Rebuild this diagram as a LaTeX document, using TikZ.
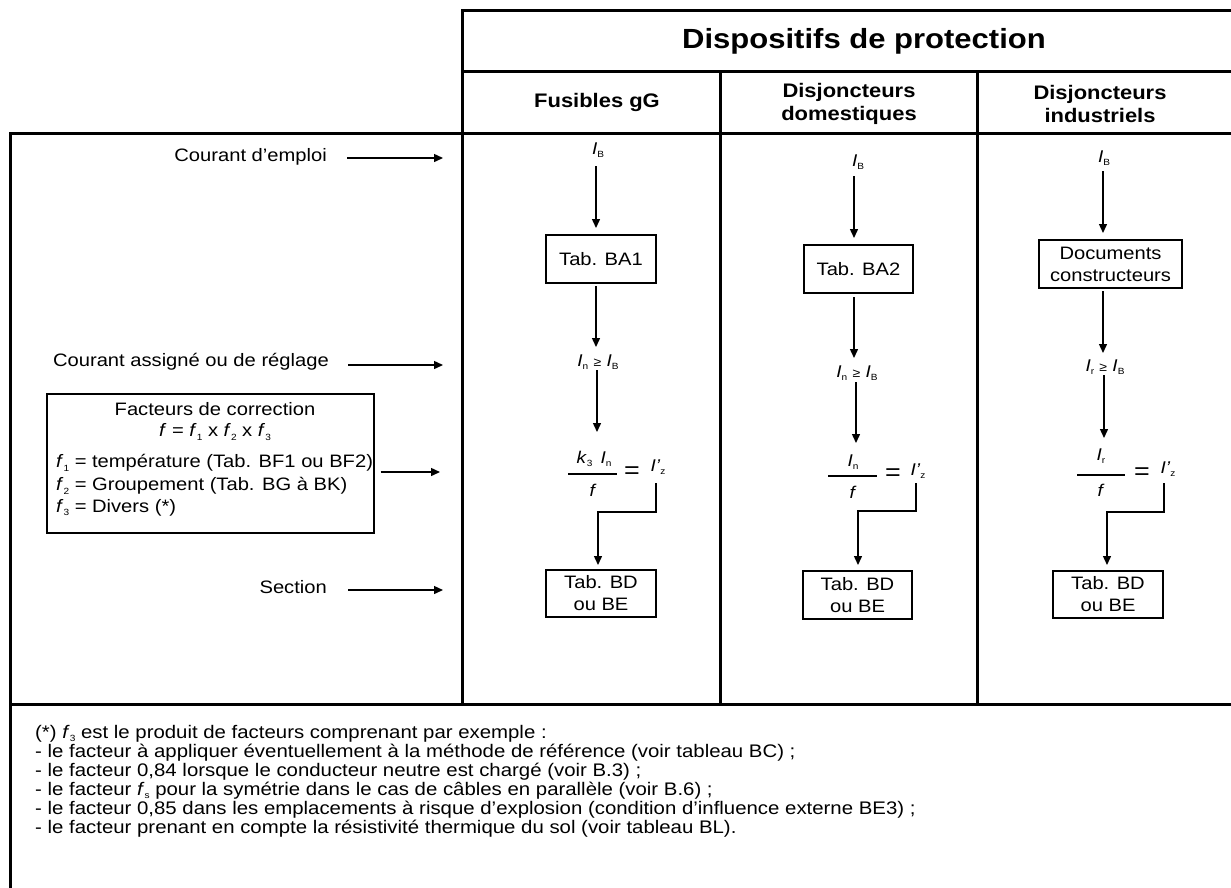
\documentclass[tikz,border=0pt]{standalone}
\usepackage{fontspec}
\setmainfont{Liberation Sans}[FakeStretch=1.12]
\usetikzlibrary{arrows.meta}
\newcommand{\lsub}[1]{\raisebox{-0.35ex}{\fontsize{9}{9}\selectfont #1}}
\newcommand{\fsbody}{\fontsize{18}{22}\selectfont}
\newcommand{\fstitle}{\fontsize{27.7}{30}\selectfont\bfseries}
\newcommand{\fshead}{\fontsize{19.6}{23}\selectfont\bfseries}
\newcommand{\fsnote}{\fontsize{18.2}{19}\selectfont}
\newcommand{\fsmath}{\fontsize{17}{19}\selectfont}
\newcommand{\mygeq}{{\fontsize{12.5}{12}\selectfont ≥}}
\begin{document}
\begin{tikzpicture}[x=1pt,y=-1pt,
  grid/.style={line width=3pt, line cap=rect},
  tbox/.style={draw, line width=1.4pt, inner sep=0pt, align=center, font=\fsbody},
  lbl/.style={inner sep=0pt, font=\fsbody},
  mlbl/.style={inner sep=0pt, font=\fsmath},
  hd/.style={inner sep=0pt, align=center, font=\fshead},
  note/.style={inner sep=0pt, anchor=base west, font=\fsnote},
  arr/.style={line width=1.4pt, -{Triangle[length=9pt,width=8pt]}},
  bar/.style={line width=1.2pt}]
\useasboundingbox (0,0) rectangle (1231,887);
% ---- table frame
\draw[grid] (462,10) -- (1231,10);
\draw[grid] (462,71) -- (1231,71);
\draw[grid] (10,133) -- (1231,133);
\draw[grid] (10,704) -- (1231,704);
\draw[grid] (462,10) -- (462,704);
\draw[grid] (720,71) -- (720,704);
\draw[grid] (977,71) -- (977,704);
\draw[grid] (10,133) -- (10,890);
% ---- headers
\node[inner sep=0pt, font=\fstitle] (title) at (864,41) {Dispositifs de protection};
\node[hd] (hc1) at (597,102) {Fusibles gG};
\node[hd] (hc2) at (849,104) {Disjoncteurs\\domestiques};
\node[hd] (hc3) at (1100,104) {Disjoncteurs\\industriels};
% ---- left labels
\node[lbl, anchor=east] (l1) at (327,157) {Courant d’emploi};
\node[lbl, anchor=east] (l2) at (329,362) {Courant assigné ou de réglage};
\node[lbl, anchor=east] (l4) at (327,587) {Section};
\coordinate (a1) at (443,158);
\coordinate (a2) at (443,365);
\coordinate (a3) at (440,472);
\coordinate (a4) at (443,590);
\draw[arr] ([xshift=20pt]l1.east |- a1) -- (a1);
\draw[arr] ([xshift=19pt]l2.east |- a2) -- (a2);
\draw[arr] ([xshift=21pt]l4.east |- a4) -- (a4);
\node[draw, line width=1.2pt, minimum width=327pt, minimum height=139pt, inner sep=0pt] (fbox) at (210.5,463.5) {};
\node[lbl] (ft1) at (215,409) {Facteurs de correction};
\node[lbl] (ft2) at (215,432) {\textit{f} = \textit{f}\lsub{1} x \textit{f}\lsub{2} x \textit{f}\lsub{3}};
\node[lbl, anchor=west] (ft3) at (56,463) {\textit{f}\lsub{1} = température (Tab. BF1 ou BF2)};
\node[lbl, anchor=west] (ft4) at (56,486) {\textit{f}\lsub{2} = Groupement (Tab. BG à BK)};
\node[lbl, anchor=west] (ft5) at (56,508) {\textit{f}\lsub{3} = Divers (*)};
\draw[arr] ([xshift=6pt]fbox.east |- a3) -- (a3);
% ---- column 1 : fusibles
\node[mlbl] (ib1) at (598,150) {\textit{I}\lsub{B}};
\node[tbox, minimum width=110pt, minimum height=48pt] (ba1) at (601,259) {Tab. BA1};
\node[mlbl] (in1) at (598,362) {\textit{I}\lsub{n} \mygeq\ \textit{I}\lsub{B}};
\node[mlbl] (nu1) at (594,459) {\textit{k}\lsub{3}\, \textit{I}\lsub{n}};
\coordinate (b1w) at (568,474);
\coordinate (b1e) at (617,474);
\draw[bar] (b1w) -- (b1e);
\node[mlbl] (de1) at (593,490) {\textit{f}};
\node[inner sep=0pt, font=\fontsize{24}{24}\selectfont] (eq1) at (632,473) {=};
\node[mlbl] (iz1) at (658,467) {\textit{I’}\lsub{z}};
\node[tbox, minimum width=110pt, minimum height=47pt] (bd1) at (601,593.5) {Tab. BD\\ou BE};
\coordinate (c1a) at (596,166);
\coordinate (c1b) at (596,228);
\coordinate (c1c) at (596,286);
\coordinate (c1d) at (596,347);
\coordinate (c1e) at (597,370);
\coordinate (c1f) at (597,432);
\draw[arr] (c1a) -- (c1b);
\draw[arr] (c1c) -- (c1d);
\draw[arr] (c1e) -- (c1f);
\coordinate (e1a) at (656,483);
\coordinate (e1b) at (656,512);
\coordinate (e1c) at (598,565);
\draw[arr] (e1a) -- (e1b) -| (e1c);
% ---- column 2 : disjoncteurs domestiques
\node[mlbl] (ib2) at (858,162) {\textit{I}\lsub{B}};
\node[tbox, minimum width=109pt, minimum height=48pt] (ba2) at (858.5,269) {Tab. BA2};
\node[mlbl] (in2) at (857,373) {\textit{I}\lsub{n} \mygeq\ \textit{I}\lsub{B}};
\node[mlbl] (nu2) at (853,462) {\textit{I}\lsub{n}};
\coordinate (b2w) at (828,476);
\coordinate (b2e) at (877,476);
\draw[bar] (b2w) -- (b2e);
\node[mlbl] (de2) at (853,492) {\textit{f}};
\node[inner sep=0pt, font=\fontsize{24}{24}\selectfont] (eq2) at (893,475) {=};
\node[mlbl] (iz2) at (918,471) {\textit{I’}\lsub{z}};
\node[tbox, minimum width=109pt, minimum height=48pt] (bd2) at (857.5,595) {Tab. BD\\ou BE};
\coordinate (c2a) at (854,176);
\coordinate (c2b) at (854,238);
\coordinate (c2c) at (854,297);
\coordinate (c2d) at (854,358);
\coordinate (c2e) at (856,382);
\coordinate (c2f) at (856,443);
\draw[arr] (c2a) -- (c2b);
\draw[arr] (c2c) -- (c2d);
\draw[arr] (c2e) -- (c2f);
\coordinate (e2a) at (916,483);
\coordinate (e2b) at (916,511);
\coordinate (e2c) at (858,565);
\draw[arr] (e2a) -- (e2b) -| (e2c);
% ---- column 3 : disjoncteurs industriels
\node[mlbl] (ib3) at (1104,158) {\textit{I}\lsub{B}};
\node[tbox, minimum width=143pt, minimum height=48pt] (doc) at (1110.5,264) {Documents\\constructeurs};
\node[mlbl] (ir3) at (1105,367) {\textit{I}\lsub{r} \mygeq\ \textit{I}\lsub{B}};
\node[mlbl] (nu3) at (1101,456) {\textit{I}\lsub{r}};
\coordinate (b3w) at (1077,475);
\coordinate (b3e) at (1125,475);
\draw[bar] (b3w) -- (b3e);
\node[mlbl] (de3) at (1101,490) {\textit{f}};
\node[inner sep=0pt, font=\fontsize{24}{24}\selectfont] (eq3) at (1142,474) {=};
\node[mlbl] (iz3) at (1168,469) {\textit{I’}\lsub{z}};
\node[tbox, minimum width=110pt, minimum height=47pt] (bd3) at (1108,594.5) {Tab. BD\\ou BE};
\coordinate (c3a) at (1103,171);
\coordinate (c3b) at (1103,233);
\coordinate (c3c) at (1103,291);
\coordinate (c3d) at (1103,353);
\coordinate (c3e) at (1104,375);
\coordinate (c3f) at (1104,438);
\draw[arr] (c3a) -- (c3b);
\draw[arr] (c3c) -- (c3d);
\draw[arr] (c3e) -- (c3f);
\coordinate (e3a) at (1164,483);
\coordinate (e3b) at (1164,512);
\coordinate (e3c) at (1107,565);
\draw[arr] (e3a) -- (e3b) -| (e3c);
% ---- footnote
\node[note] (n1) at (35,738) {(*) \textit{f}\lsub{3} est le produit de facteurs comprenant par exemple :};
\node[note] (n2) at (35,757) {- le facteur à appliquer éventuellement à la méthode de référence (voir tableau BC) ;};
\node[note] (n3) at (35,776) {- le facteur 0,84 lorsque le conducteur neutre est chargé (voir B.3) ;};
\node[note] (n4) at (35,795) {- le facteur \textit{f}\lsub{s} pour la symétrie dans le cas de câbles en parallèle (voir B.6) ;};
\node[note] (n5) at (35,814) {- le facteur 0,85 dans les emplacements à risque d’explosion (condition d’influence externe BE3) ;};
\node[note] (n6) at (35,833) {- le facteur prenant en compte la résistivité thermique du sol (voir tableau BL).};
\end{tikzpicture}
\end{document}
